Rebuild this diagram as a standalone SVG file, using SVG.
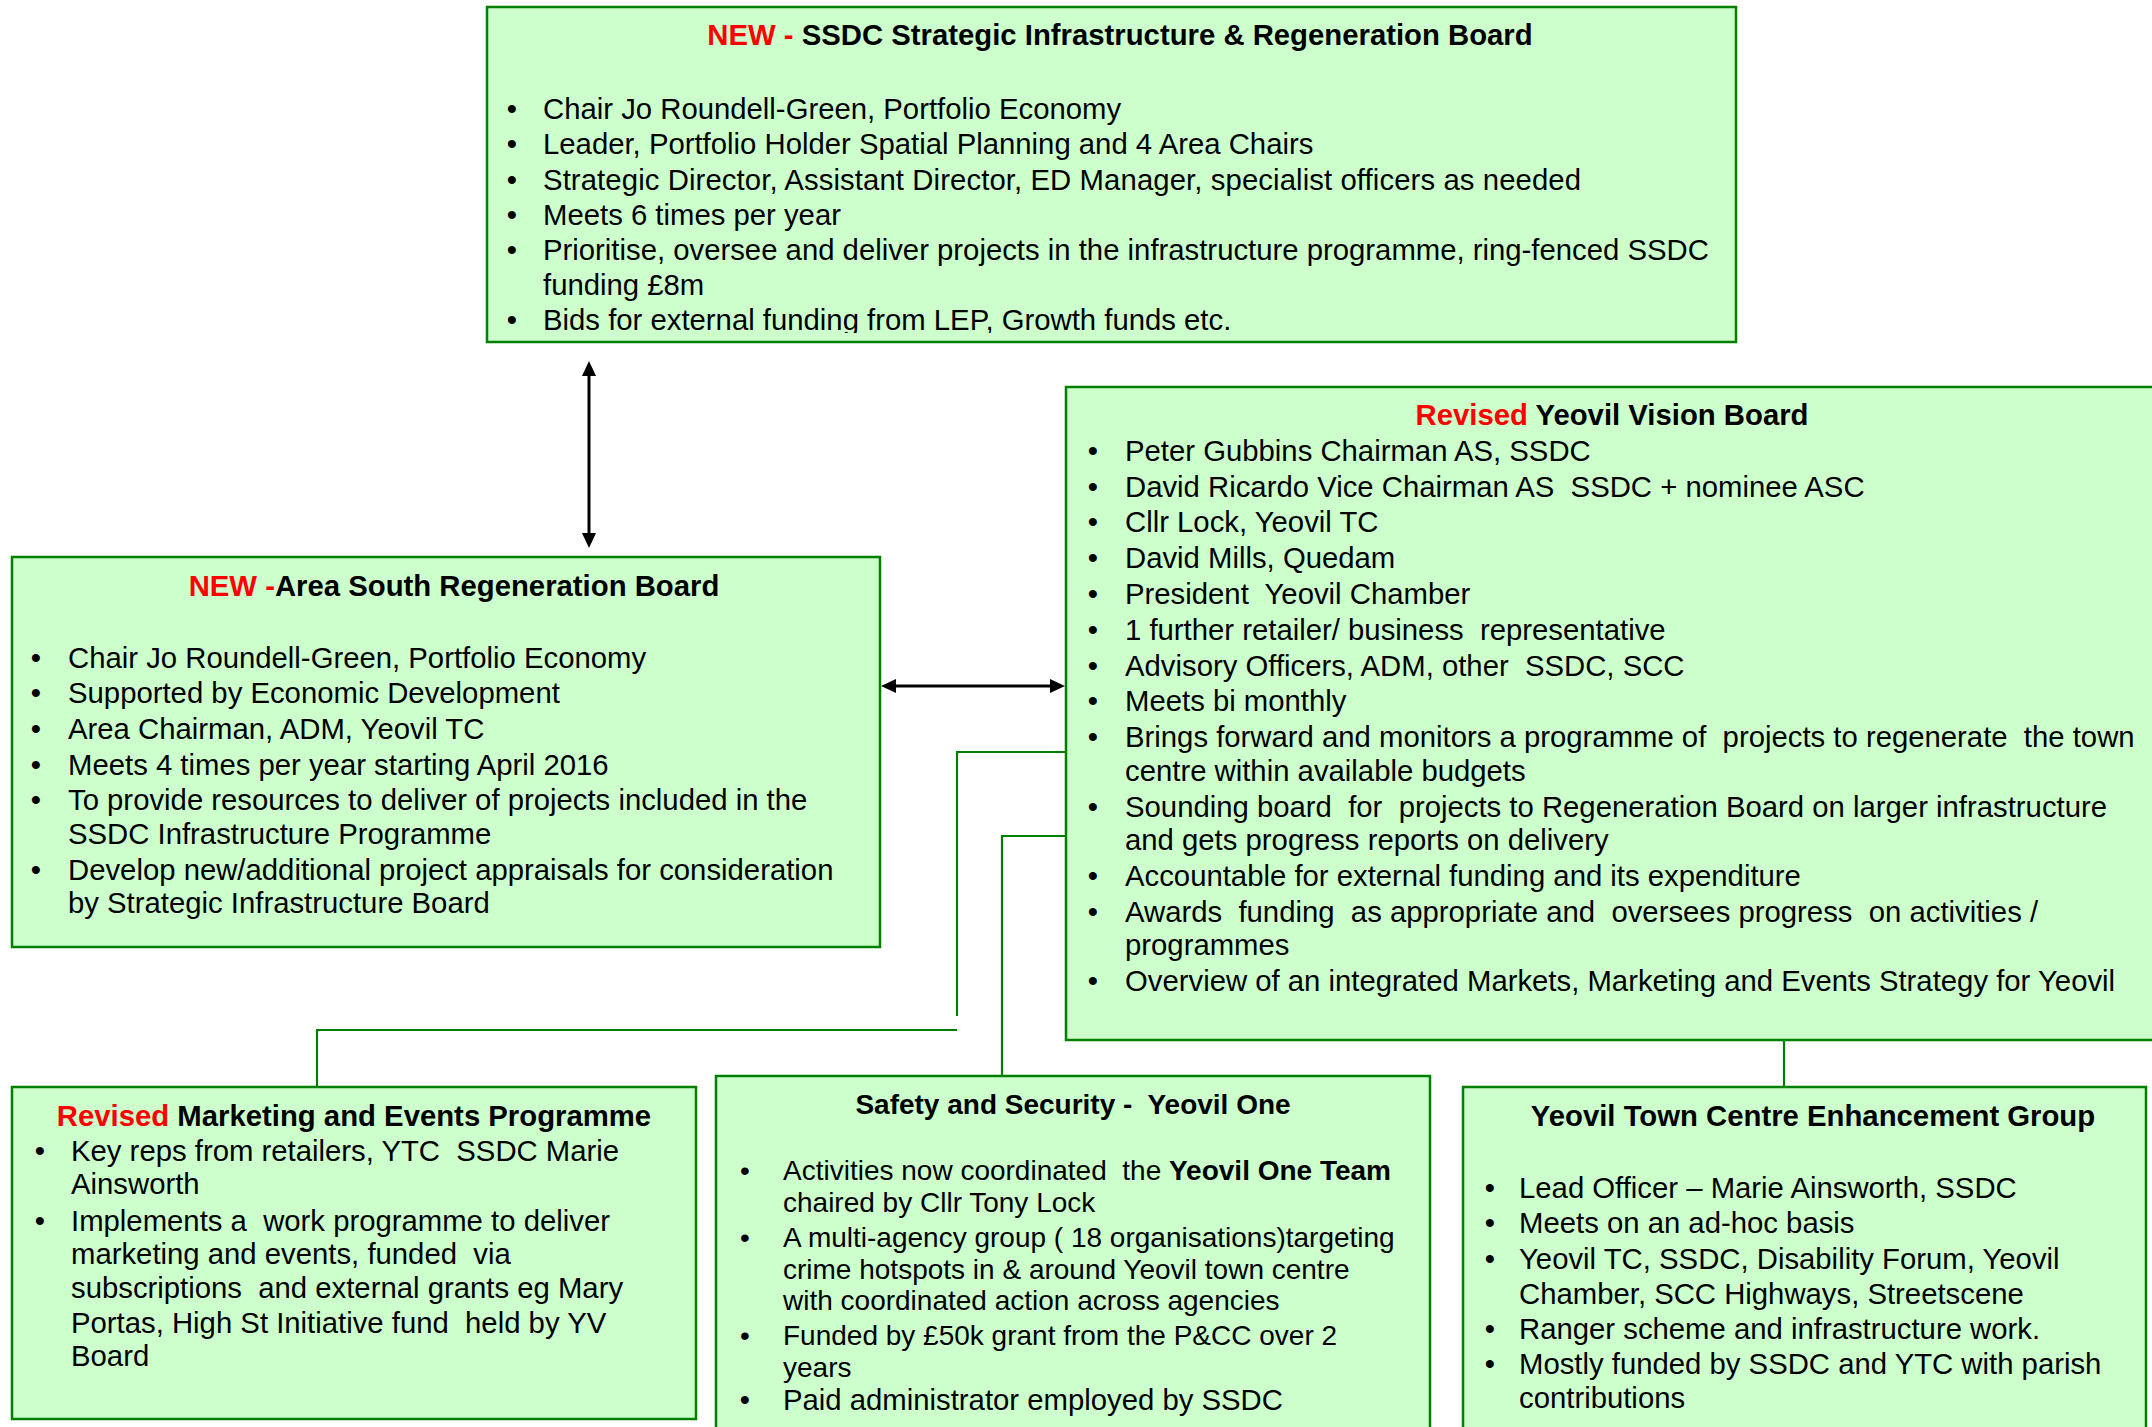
<svg xmlns="http://www.w3.org/2000/svg" width="2152" height="1427" viewBox="0 0 2152 1427" xml:space="preserve">
<style>
.box{fill:#CCFFCC;stroke:#008000;stroke-width:2.5}
text{font-family:"Liberation Sans",Arial,sans-serif;font-size:29.3px;fill:#000;white-space:pre}
.t{font-weight:bold;text-anchor:middle}
.r{fill:#FF0000}
.b{text-anchor:middle}
.s{font-size:28px}
.g{fill:none;stroke:#008000;stroke-width:2.2}
.a{fill:none;stroke:#000;stroke-width:3}
</style>
<defs>
<marker id="ah" viewBox="0 0 15 14" refX="0" refY="7" markerWidth="15" markerHeight="14" markerUnits="userSpaceOnUse" orient="auto-start-reverse"><path d="M0,0 L15,7 L0,14 z" fill="#000"/></marker>
<clipPath id="ctop"><rect x="487" y="7" width="1249" height="326"/></clipPath>
</defs>
<rect width="2152" height="1427" fill="#fff"/>

<g id="connectors">
<line class="a" x1="589" y1="376" x2="589" y2="533" marker-start="url(#ah)" marker-end="url(#ah)"/>
<line class="a" x1="896" y1="686" x2="1050" y2="686" marker-start="url(#ah)" marker-end="url(#ah)"/>
<polyline class="g" points="1066,752 957,752 957,1016"/>
<polyline class="g" points="957,1030 317,1030 317,1087"/>
<polyline class="g" points="1066,836 1002,836 1002,1076"/>
<line class="g" x1="1784" y1="1040" x2="1784" y2="1087"/>
</g>

<g id="strategic-board">
<rect class="box" x="487" y="7" width="1249" height="335"/>
<text class="t" x="1120" y="45"><tspan class="r">NEW - </tspan>SSDC Strategic Infrastructure &amp; Regeneration Board</text>
<g clip-path="url(#ctop)">
<text class="b" x="512" y="119">•</text><text x="543" y="119">Chair Jo Roundell-Green, Portfolio Economy</text>
<text class="b" x="512" y="154">•</text><text x="543" y="154">Leader, Portfolio Holder Spatial Planning and 4 Area Chairs</text>
<text class="b" x="512" y="190">•</text><text x="543" y="190" textLength="1038">Strategic Director, Assistant Director, ED Manager, specialist officers as needed</text>
<text class="b" x="512" y="225">•</text><text x="543" y="225">Meets 6 times per year</text>
<text class="b" x="512" y="260">•</text><text x="543" y="260">Prioritise, oversee and deliver projects in the infrastructure programme, ring-fenced SSDC</text>
<text x="543" y="295">funding £8m</text>
<text class="b" x="512" y="330">•</text><text x="543" y="330">Bids for external funding from LEP, Growth funds etc.</text>
</g>
</g>

<g id="area-south-board">
<rect class="box" x="12" y="557" width="868" height="390"/>
<text class="t" x="454" y="596"><tspan class="r">NEW -</tspan>Area South Regeneration Board</text>
<text class="b" x="36" y="668">•</text><text x="68" y="668">Chair Jo Roundell-Green, Portfolio Economy</text>
<text class="b" x="36" y="703">•</text><text x="68" y="703">Supported by Economic Development</text>
<text class="b" x="36" y="739">•</text><text x="68" y="739">Area Chairman, ADM, Yeovil TC</text>
<text class="b" x="36" y="775">•</text><text x="68" y="775">Meets 4 times per year starting April 2016</text>
<text class="b" x="36" y="810">•</text><text x="68" y="810">To provide resources to deliver of projects included in the</text>
<text x="68" y="844">SSDC Infrastructure Programme</text>
<text class="b" x="36" y="880">•</text><text x="68" y="880">Develop new/additional project appraisals for consideration</text>
<text x="68" y="913">by Strategic Infrastructure Board</text>
</g>

<g id="yeovil-vision-board">
<rect class="box" x="1066" y="387" width="1100" height="653"/>
<text class="t" x="1612" y="425"><tspan class="r">Revised</tspan> Yeovil Vision Board</text>
<text class="b" x="1093" y="461">•</text><text x="1125" y="461">Peter Gubbins Chairman AS, SSDC</text>
<text class="b" x="1093" y="497">•</text><text x="1125" y="497">David Ricardo Vice Chairman AS  SSDC + nominee ASC</text>
<text class="b" x="1093" y="532">•</text><text x="1125" y="532">Cllr Lock, Yeovil TC</text>
<text class="b" x="1093" y="568">•</text><text x="1125" y="568">David Mills, Quedam</text>
<text class="b" x="1093" y="604">•</text><text x="1125" y="604">President  Yeovil Chamber</text>
<text class="b" x="1093" y="640">•</text><text x="1125" y="640">1 further retailer/ business  representative</text>
<text class="b" x="1093" y="676">•</text><text x="1125" y="676">Advisory Officers, ADM, other  SSDC, SCC</text>
<text class="b" x="1093" y="711">•</text><text x="1125" y="711">Meets bi monthly</text>
<text class="b" x="1093" y="747">•</text><text x="1125" y="747">Brings forward and monitors a programme of  projects to regenerate  the town</text>
<text x="1125" y="781">centre within available budgets</text>
<text class="b" x="1093" y="817">•</text><text x="1125" y="817">Sounding board  for  projects to Regeneration Board on larger infrastructure</text>
<text x="1125" y="850">and gets progress reports on delivery</text>
<text class="b" x="1093" y="886">•</text><text x="1125" y="886">Accountable for external funding and its expenditure</text>
<text class="b" x="1093" y="922">•</text><text x="1125" y="922">Awards  funding  as appropriate and  oversees progress  on activities /</text>
<text x="1125" y="955">programmes</text>
<text class="b" x="1093" y="991">•</text><text x="1125" y="991">Overview of an integrated Markets, Marketing and Events Strategy for Yeovil</text>
</g>

<g id="marketing-events">
<rect class="box" x="12" y="1087" width="684" height="332"/>
<text class="t" x="354" y="1126"><tspan class="r">Revised</tspan> Marketing and Events Programme</text>
<text class="b" x="40" y="1161">•</text><text x="71" y="1161">Key reps from retailers, YTC  SSDC Marie</text>
<text x="71" y="1194">Ainsworth</text>
<text class="b" x="40" y="1231">•</text><text x="71" y="1231">Implements a  work programme to deliver</text>
<text x="71" y="1264">marketing and events, funded  via</text>
<text x="71" y="1298">subscriptions  and external grants eg Mary</text>
<text x="71" y="1333">Portas, High St Initiative fund  held by YV</text>
<text x="71" y="1366">Board</text>
</g>

<g id="safety-security">
<rect class="box" x="716" y="1076" width="714" height="370"/>
<text class="t s" x="1073" y="1114">Safety and Security -  Yeovil One</text>
<text class="b s" x="745" y="1180">•</text><text class="s" x="783" y="1180">Activities now coordinated  the <tspan font-weight="bold">Yeovil One Team</tspan></text>
<text class="s" x="783" y="1212">chaired by Cllr Tony Lock</text>
<text class="b s" x="745" y="1247">•</text><text class="s" x="783" y="1247">A multi-agency group ( 18 organisations)targeting</text>
<text class="s" x="783" y="1279">crime hotspots in &amp; around Yeovil town centre</text>
<text class="s" x="783" y="1310">with coordinated action across agencies</text>
<text class="b s" x="745" y="1345">•</text><text class="s" x="783" y="1345">Funded by £50k grant from the P&amp;CC over 2</text>
<text class="s" x="783" y="1377">years</text>
<text class="b" x="745" y="1410">•</text><text x="783" y="1410">Paid administrator employed by SSDC</text>
</g>

<g id="town-centre-enhancement">
<rect class="box" x="1463" y="1087" width="683" height="360"/>
<text class="t" x="1813" y="1126">Yeovil Town Centre Enhancement Group</text>
<text class="b" x="1490" y="1198">•</text><text x="1519" y="1198">Lead Officer – Marie Ainsworth, SSDC</text>
<text class="b" x="1490" y="1233">•</text><text x="1519" y="1233">Meets on an ad-hoc basis</text>
<text class="b" x="1490" y="1269">•</text><text x="1519" y="1269">Yeovil TC, SSDC, Disability Forum, Yeovil</text>
<text x="1519" y="1304">Chamber, SCC Highways, Streetscene</text>
<text class="b" x="1490" y="1339">•</text><text x="1519" y="1339">Ranger scheme and infrastructure work.</text>
<text class="b" x="1490" y="1374">•</text><text x="1519" y="1374">Mostly funded by SSDC and YTC with parish</text>
<text x="1519" y="1408">contributions</text>
</g>
</svg>
